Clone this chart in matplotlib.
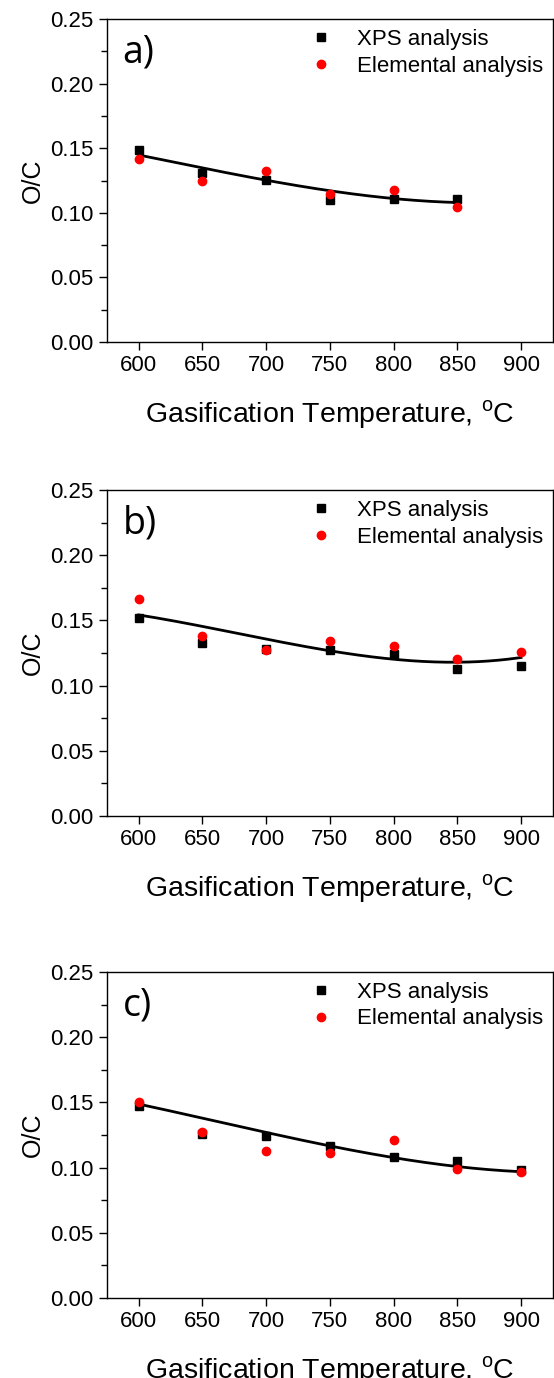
"""O/C ratio vs gasification temperature, three stacked panels."""

import matplotlib
import matplotlib.pyplot as plt
import numpy as np
from matplotlib.ticker import MultipleLocator, FormatStrFormatter

matplotlib.use("Agg")

plt.rcParams["font.family"] = ["Liberation Sans", "DejaVu Sans"]

temps_a = [600, 650, 700, 750, 800, 850]
xps_a = [0.149, 0.131, 0.1255, 0.110, 0.111, 0.111]
elem_a = [0.1415, 0.1247, 0.1325, 0.1147, 0.1173, 0.1044]
fit_a = [0.1448, 0.1345, 0.1255, 0.117, 0.111, 0.108]

temps_b = [600, 650, 700, 750, 800, 850, 900]
xps_b = [0.1515, 0.133, 0.128, 0.1277, 0.124, 0.1126, 0.1151]
elem_b = [0.1662, 0.1377, 0.1274, 0.1341, 0.1305, 0.1205, 0.1259]
fit_b = [0.1544, 0.1449, 0.1359, 0.1269, 0.1205, 0.1174, 0.1218]

temps_c = [600, 650, 700, 750, 800, 850, 900]
xps_c = [0.1474, 0.1256, 0.1241, 0.1162, 0.108, 0.105, 0.098]
elem_c = [0.150, 0.1269, 0.1128, 0.111, 0.1208, 0.0992, 0.0969]
fit_c = [0.1487, 0.1377, 0.1269, 0.1167, 0.1077, 0.1005, 0.0969]

panels = [
    ("a)", temps_a, xps_a, elem_a, fit_a, [0.193, 0.7518, 0.805, 0.2344]),
    ("b)", temps_b, xps_b, elem_b, fit_b, [0.193, 0.4078, 0.805, 0.2366]),
    ("c)", temps_c, xps_c, elem_c, fit_c, [0.193, 0.0581, 0.805, 0.2366]),
]

fig = plt.figure(figsize=(5.54, 13.78), dpi=100)

for tag, temps, xps, elem, fit, rect in panels:
    ax = fig.add_axes(rect)
    # smooth trend line through the fitted values
    t = np.array(temps, dtype=float)
    coef = np.polyfit(t, fit, 3)
    tt = np.linspace(t.min(), t.max(), 200)
    ax.plot(tt, np.polyval(coef, tt), color="black", lw=2, zorder=2)
    ax.plot(temps, xps, "s", color="black", ms=5.5, label="XPS analysis", zorder=3)
    ax.plot(temps, elem, "o", color="#ff0000", ms=6, label="Elemental analysis", zorder=4)

    ax.set_xlim(575, 925)
    ax.set_ylim(0, 0.25)
    ax.xaxis.set_major_locator(MultipleLocator(50))
    ax.yaxis.set_major_locator(MultipleLocator(0.05))
    ax.yaxis.set_minor_locator(MultipleLocator(0.025))
    ax.yaxis.set_major_formatter(FormatStrFormatter("%.2f"))
    ax.tick_params(axis="both", which="major", direction="out", length=6,
                   width=1, labelsize=16, top=False, right=False)
    ax.tick_params(axis="y", which="minor", direction="out", length=4, width=1)
    for s in ax.spines.values():
        s.set_linewidth(1)

    ax.set_ylabel("O/C", fontsize=18, labelpad=4)
    ax.set_xlabel(r"Gasification Temperature, $^{\mathregular{o}}$C",
                  fontsize=20.5, labelpad=16)
    ax.text(0.035, 0.955, tag, transform=ax.transAxes, fontsize=27,
            family="Open Sans", va="top", ha="left")
    ax.legend(loc="upper right", fontsize=16, frameon=False,
              handletextpad=1.0, borderaxespad=0.05, labelspacing=0.25,
              handlelength=1.2, borderpad=0.4)

fig.savefig("out.png", dpi=100)
